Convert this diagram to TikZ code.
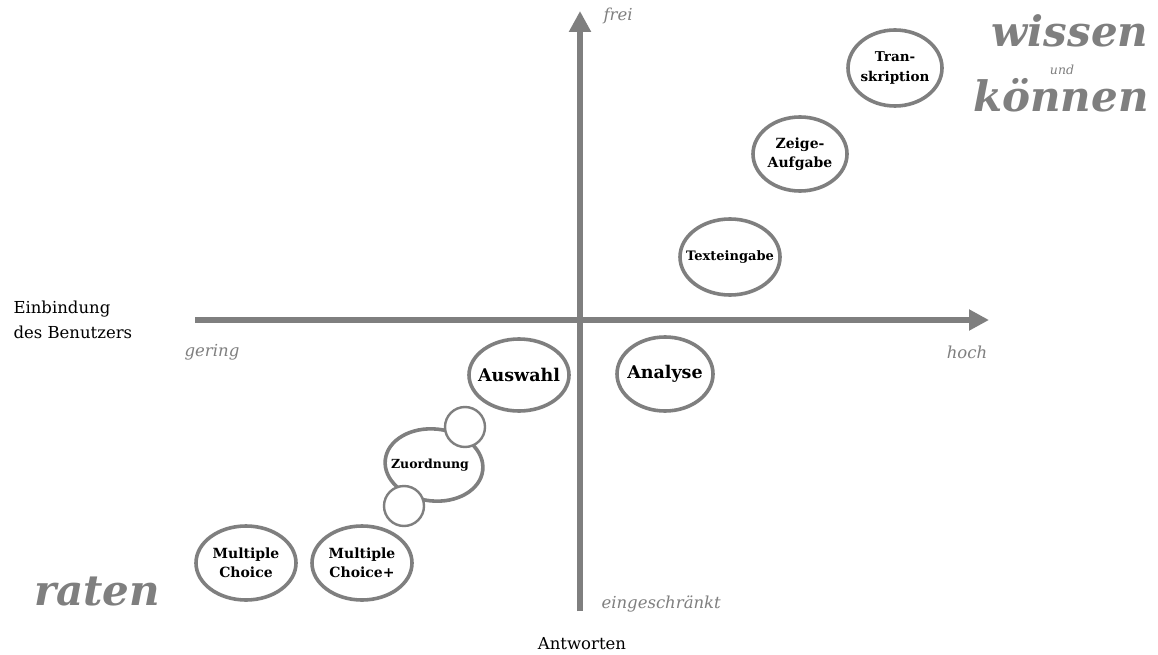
\documentclass[tikz,border=0pt]{standalone}
\usepackage{fontspec}
\setmainfont{DejaVu Serif}
\usepackage{tikz}
\usetikzlibrary{arrows.meta}

\definecolor{axisgray}{HTML}{7F7F7F}
\tikzset{
	tasktext/.style={inner sep=0pt, font=\bfseries\fontsize{14}{19.5}\selectfont, align=center},
	ring/.style={draw=axisgray, line width=3.6pt, fill=white},
	bubble/.style={circle, draw=axisgray, line width=2.4pt, fill=white, minimum size=40pt, inner sep=0pt},
	axislabel/.style={text=axisgray, font=\itshape\fontsize{16.5}{19}\selectfont},
	plainlabel/.style={font=\fontsize{16.5}{25}\selectfont},
	bigword/.style={text=axisgray, anchor=base, font=\bfseries\itshape\fontsize{42}{44}\selectfont}
}

\begin{document}
\begin{tikzpicture}[x=1pt,y=-1pt]
		\useasboundingbox[fill=white] (0,0) rectangle (1158,655);
		% axes
		\coordinate (xstart) at (195,320);
		\coordinate (xend) at (989,320);
		\coordinate (ystart) at (580,611);
		\coordinate (yend) at (580,11);
		\draw[-{Triangle[length=20pt,width=20pt]},line width=6.5pt,axisgray] (xstart) to (xend);
		\draw[-{Triangle[length=21pt,width=21pt]},line width=6.5pt,axisgray] (ystart) to (yend);
		
		\node[axislabel, anchor=west] (frei) at (600,16) {frei};
		\node[axislabel, anchor=west] (eing) at (598,604) {eingeschränkt};
		\node[axislabel] (gering) at (212,352) {gering};
		\node[axislabel] (hoch) at (967,352) {hoch};
		\node[plainlabel] (antw) at (582,644) {Antworten};
		\node[plainlabel, align=left, anchor=west] (einb) at (10,320) {Einbindung\\des Benutzers};
		
		% rings
		\draw[ring] (895,68) ellipse (47 and 38);
		\draw[ring] (800,154) ellipse (47 and 37);
		\draw[ring] (730,257) ellipse (50 and 38);
		\draw[ring] (519,375) ellipse (50 and 36);
		\draw[ring] (665,374) ellipse (48 and 37);
		\draw[ring, rotate around={-6:(434,465)}] (434,465) ellipse (49 and 36);
		\draw[ring] (246,563) ellipse (50 and 37);
		\draw[ring] (362,563) ellipse (50 and 37);
		
		% tasks
		\node[tasktext, font=\bfseries\fontsize{13.5}{19.5}\selectfont] (trans) at (895,68) {Tran-\\skription};
		\node[tasktext] (zeige) at (800,154) {Zeige-\\Aufgabe};
		\node[tasktext, font=\bfseries\fontsize{13}{15}\selectfont] (text) at (730,257) {Texteingabe};
		\node[tasktext, font=\bfseries\fontsize{17.5}{20}\selectfont] (ausw) at (519,375) {Auswahl};
		\node[tasktext, font=\bfseries\fontsize{17.5}{20}\selectfont] (anal) at (665,374) {Analyse};
		\node[tasktext, font=\bfseries\fontsize{12.5}{15}\selectfont] (zuord) at (430,465) {Zuordnung};
		\node[bubble] (bub1) at (465,427) {};
		\node[bubble] (bub2) at (404,506) {};
		\node[tasktext] (mc) at (246,563) {Multiple\\Choice};
		\node[tasktext] (mcplus) at (362,563) {Multiple\\Choice+};
		
		% corner words
		\node[bigword] (raten) at (97,605) {raten};
		\node[bigword] (wissen) at (1070,47) {wissen};
		\node[text=axisgray, anchor=base, font=\itshape\fontsize{12.5}{14}\selectfont] (und) at (1062,75) {und};
		\node[bigword] (koennen) at (1061,112) {können};
		
		\end{tikzpicture}
\end{document}
